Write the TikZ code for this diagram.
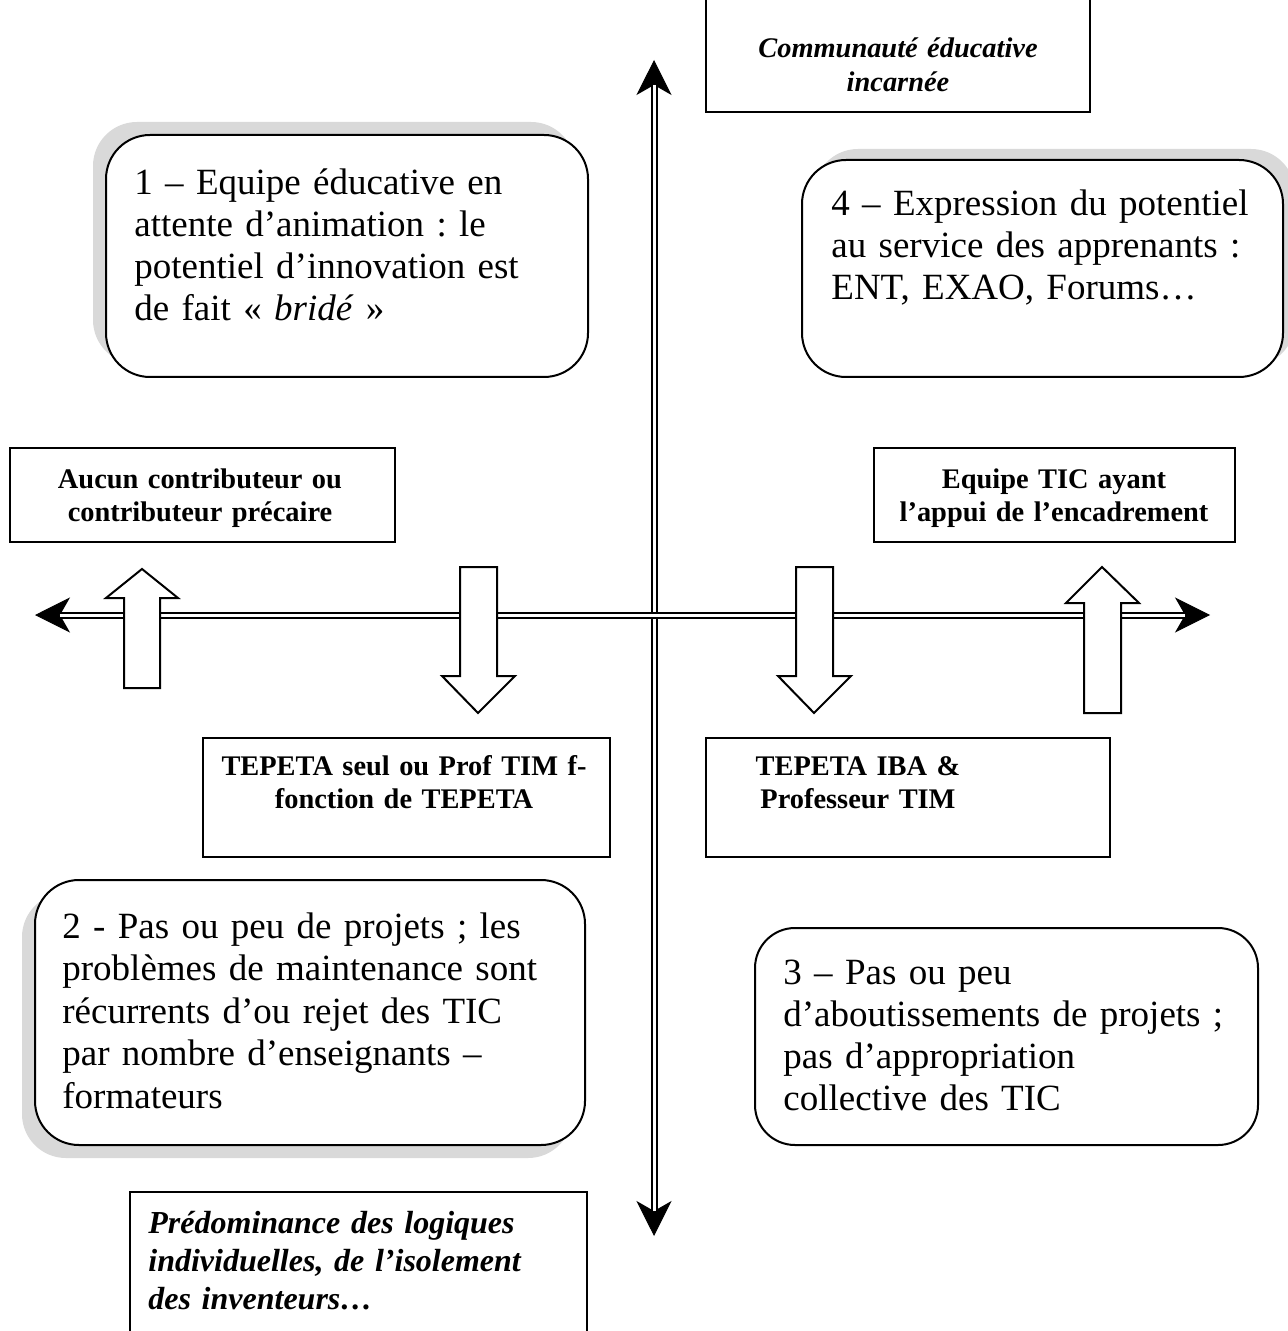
\documentclass[tikz,border=0pt]{standalone}
\usepackage{fontspec}
\setmainfont{Liberation Serif}
\usetikzlibrary{arrows.meta,fit}
\frenchspacing

\begin{document}
\begin{tikzpicture}[x=0.5pt,y=-0.5pt,
  quad/.style={draw=black, line width=1pt, fill=white, rounded corners=22pt, inner sep=0pt},
  quadshadow/.style={fill=black!15, rounded corners=22pt, inner sep=0pt},
  tagbox/.style={draw=black, line width=1pt, fill=white, inner sep=0pt},
  bigtext/.style={anchor=base west, inner sep=0pt, align=left, text width=250pt,
    font=\fontsize{18.5}{21}\selectfont},
  tagtext/.style={anchor=base, inner sep=0pt, align=center, text width=200pt,
    font=\fontsize{14.2}{16.6}\selectfont\bfseries},
  blockarrow/.style={draw=black, line width=1pt, fill=white, line join=miter},
  axistip/.style={line width=0.5pt,
    {Stealth[length=17.5pt,width=17.5pt,inset=5pt]}-{Stealth[length=17.5pt,width=17.5pt,inset=5pt]}},
  axisline/.style={line width=1pt, double=white, double distance=1.5pt,
    shorten <=12.5pt, shorten >=12.5pt},
]
\clip (0,0) rectangle (1288,1331);
\fill[white] (0,0) rectangle (1288,1331);

% quadrant boxes with their shadows
\node[quadshadow, fit={(93,122) (575,364)}] (q1s) {};
\node[quad, fit={(106,135) (588,377)}] (q1) {};
\node[quadshadow, fit={(814,149) (1295,366)}] (q4s) {};
\node[quad, fit={(802,160) (1283,377)}] (q4) {};
\node[quadshadow, fit={(22,893) (572,1158)}] (q2s) {};
\node[quad, fit={(35,880) (585,1145)}] (q2) {};
\node[quad, rounded corners=20pt, fit={(755,928) (1258,1145)}] (q3) {};

\node[bigtext] (t1) at (134,195) {1 – Equipe éducative en\\attente d’animation : le\\potentiel d’innovation est\\de fait « \textit{bridé} »};
\node[bigtext] (t4) at (831,216) {4 – Expression du potentiel\\au service des apprenants :\\ENT, EXAO, Forums…};
\node[bigtext, font=\fontsize{18.5}{21.3}\selectfont] (t2) at (62,938) {2 - Pas ou peu de projets ; les\\problèmes de maintenance sont\\récurrents d’ou rejet des TIC\\par nombre d’enseignants –\\formateurs};
\node[bigtext] (t3) at (783,984) {3 – Pas ou peu\\d’aboutissements de projets ;\\pas d’appropriation\\collective des TIC};

% axes
\coordinate (vtop) at (654,60);
\coordinate (vbot) at (654,1236);
\coordinate (hleft) at (35,615);
\coordinate (hright) at (1210,615);
\draw[axistip] (vtop) -- (vbot);
\draw[axistip] (hleft) -- (hright);
\draw[axisline] (vtop) -- (vbot);
\draw[axisline] (hleft) -- (hright);

% block arrows
\draw[blockarrow] (142,569) -- (178,598) -- (160,598) -- (160,688) -- (124,688) -- (124,598) -- (106,598) -- cycle;
\draw[blockarrow] (460,567) -- (497,567) -- (497,676) -- (515,676) -- (478,713) -- (442,676) -- (460,676) -- cycle;
\draw[blockarrow] (796,567) -- (833,567) -- (833,676) -- (851,676) -- (814,713) -- (778,676) -- (796,676) -- cycle;
\draw[blockarrow] (1102,567) -- (1139,603) -- (1121,603) -- (1121,713) -- (1084,713) -- (1084,603) -- (1066,603) -- cycle;

% label boxes
\node[tagbox, fit={(706,-10) (1090,112)}] (top) {};
\node[tagtext, font=\fontsize{14.2}{16.8}\selectfont\bfseries\itshape] (topt) at (898,58) {Communauté éducative\\incarnée};
\node[tagbox, fit={(10,448) (395,542)}] (lft) {};
\node[tagtext] (lftt) at (200,488) {Aucun contributeur ou\\contributeur précaire};
\node[tagbox, fit={(874,448) (1235,542)}] (rgt) {};
\node[tagtext] (rgtt) at (1054,488) {Equipe TIC ayant\\l’appui de l’encadrement};
\node[tagbox, fit={(203,738) (610,857)}] (tl) {};
\node[tagtext] (tlt) at (404,775) {TEPETA seul ou Prof TIM f-\\fonction de TEPETA};
\node[tagbox, fit={(706,738) (1110,857)}] (tr) {};
\node[tagtext] (trt) at (858,775) {TEPETA IBA \&\\Professeur TIM};
\node[tagbox, fit={(130,1192) (587,1350)}] (bot) {};
\node[anchor=base west, inner sep=0pt, align=left, text width=250pt,
  font=\fontsize{16}{19}\selectfont\bfseries\itshape] (bott) at (148,1233)
  {Prédominance des logiques\\individuelles, de l’isolement\\des inventeurs…};
\end{tikzpicture}
\end{document}
